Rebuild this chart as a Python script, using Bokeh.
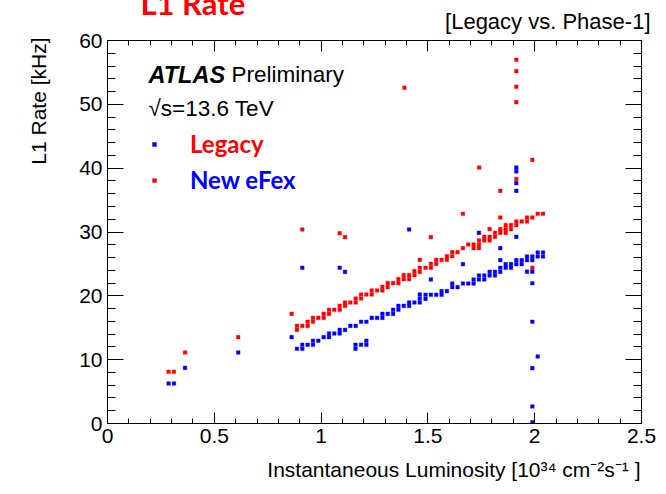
from bokeh.plotting import figure
from bokeh.models import (Label, LinearAxis, SingleIntervalTicker, Range1d, Title,
                          NumeralTickFormatter, Legend, LegendItem, ColumnDataSource)
from bokeh.embed import file_html
from bokeh.resources import INLINE

# L1 rate [kHz] versus instantaneous luminosity [1e34 cm^-2 s^-1]
legacy_lumi = [
    0.286, 0.311, 0.363, 0.612, 0.862,
    0.887, 0.887, 0.912, 0.937, 0.937, 0.962, 0.962, 0.987, 1.012, 1.012,
    1.037, 1.037, 1.062, 1.087, 1.087, 1.112, 1.112, 1.137, 1.162, 1.162,
    1.187, 1.187, 1.212, 1.237, 1.237, 1.262, 1.287, 1.287, 1.312, 1.312,
    1.337, 1.362, 1.362, 1.387, 1.387, 1.412, 1.412, 1.437, 1.437,
    1.462, 1.462, 1.462, 1.489, 1.514, 1.514, 1.539, 1.539, 1.564, 1.589, 1.589,
    1.614, 1.614, 1.639, 1.664, 1.689, 1.714, 1.714, 1.739, 1.739, 1.739,
    1.764, 1.764, 1.789, 1.789, 1.789, 1.814, 1.814, 1.839, 1.839,
    1.864, 1.864, 1.864, 1.889, 1.889, 1.914, 1.914, 1.939, 1.964, 1.964,
    1.989, 2.014, 2.039,
    0.912, 1.087, 1.112, 1.390, 1.514, 1.664, 1.740, 1.839, 1.839,
    1.914, 1.914, 1.914, 1.914, 1.914, 1.989, 1.989,
]
legacy_rate = [
    8.10, 8.10, 11.12, 13.53, 17.18,
    15.30, 14.67, 15.30, 15.93, 15.30, 16.55, 15.93, 16.55, 17.18, 16.55,
    17.81, 17.18, 17.81, 18.43, 17.81, 18.96, 18.43, 18.96, 19.58, 18.96,
    20.21, 19.58, 20.21, 20.84, 20.21, 20.84, 21.40, 20.84, 21.99, 21.36,
    21.99, 22.61, 21.99, 23.24, 22.61, 23.24, 22.61, 23.87, 23.24,
    25.64, 24.39, 23.76, 24.39, 25.01, 24.39, 25.64, 25.01, 25.64, 26.21, 25.64,
    26.84, 26.21, 26.84, 27.47, 28.04, 28.04, 27.47, 28.67, 28.04, 27.47,
    29.24, 28.67, 30.45, 29.24, 28.67, 29.87, 29.24, 30.45, 29.87,
    31.07, 30.45, 29.87, 31.07, 30.45, 31.65, 31.07, 31.65, 32.27, 31.65,
    32.27, 32.85, 32.85,
    30.40, 29.80, 29.20, 52.60, 29.20, 32.85, 40.10, 36.45, 32.27,
    56.98, 55.20, 52.75, 50.34, 38.30, 41.30, 24.40,
]
efex_lumi = [
    0.286, 0.311, 0.363, 0.612, 0.862,
    0.887, 0.912, 0.912, 0.937, 0.962, 0.962, 0.987, 1.012, 1.037, 1.037,
    1.062, 1.087, 1.087, 1.112, 1.137, 1.162, 1.187, 1.212, 1.237, 1.262,
    1.287, 1.287, 1.312, 1.337, 1.337, 1.362, 1.362, 1.387, 1.412, 1.412, 1.437,
    1.462, 1.462, 1.462, 1.489, 1.489, 1.514, 1.539, 1.564, 1.564, 1.589,
    1.614, 1.614, 1.639, 1.664, 1.689, 1.714, 1.714, 1.739, 1.739, 1.764, 1.764,
    1.789, 1.789, 1.814, 1.814, 1.839, 1.839, 1.864, 1.864, 1.889, 1.889,
    1.914, 1.914, 1.939, 1.939, 1.964, 1.964, 1.989, 1.989, 2.014, 2.014, 2.039, 2.039,
    0.912, 1.087, 1.112, 1.412, 1.161, 1.161, 1.187, 1.212, 1.212,
    1.514, 1.664, 1.739, 1.839, 1.839, 1.914, 1.914, 1.914, 1.914, 1.914,
    1.964, 1.989, 1.989, 1.989, 2.014, 1.989, 1.989, 1.989,
]
efex_rate = [
    6.27, 6.27, 8.72, 11.12, 13.53,
    11.70, 12.33, 11.70, 12.33, 12.96, 12.33, 12.96, 13.53, 14.10, 13.53,
    14.10, 14.67, 14.10, 14.67, 15.30, 15.30, 15.93, 15.93, 16.55, 16.55,
    17.18, 16.55, 17.18, 17.81, 17.18, 18.43, 17.81, 18.43, 18.96, 18.43, 18.96,
    20.21, 19.58, 18.96, 20.16, 19.53, 20.16, 20.16, 20.73, 20.16, 20.73,
    21.93, 21.36, 21.36, 21.93, 21.93, 22.56, 21.93, 23.19, 22.56, 23.19, 22.56,
    23.76, 23.19, 23.76, 23.19, 24.39, 23.76, 24.96, 24.39, 24.96, 24.39,
    25.59, 24.96, 25.59, 24.96, 26.16, 25.59, 26.16, 25.59, 26.79, 26.16, 26.79, 26.16,
    24.39, 24.39, 23.76, 30.40, 12.33, 11.70, 12.33, 12.96, 12.33,
    22.56, 24.96, 29.87, 27.47, 25.59, 29.24, 40.10, 39.50, 37.65, 36.45,
    23.79, 23.79, 21.98, 15.93, 10.50, 8.67, 2.66, 0.20,
]

x_limits = (0, 2.5)
y_limits = (0, 60)
x_title = "Instantaneous Luminosity [10\u00b3\u2074 cm\u207b\u00b2s\u207b\u00b9 ]"
y_title = "L1 Rate [kHz]"

FONT = "Liberation Sans"
FS = 21

p = figure(width=666, height=494, output_backend="svg", toolbar_location=None,
           title=None, x_range=Range1d(*x_limits), y_range=Range1d(*y_limits),
           min_border_left=107, min_border_right=25,
           min_border_top=40, min_border_bottom=71)
p.xgrid.visible = False
p.ygrid.visible = False
p.background_fill_color = "white"
p.border_fill_color = "white"
p.outline_line_color = "black"
p.outline_line_width = 1


def style_axis(ax, interval, major_len, minor_len, labels=True):
    ax.ticker = SingleIntervalTicker(interval=interval, num_minor_ticks=5)
    ax.major_tick_in = major_len
    ax.major_tick_out = 0
    ax.minor_tick_in = minor_len
    ax.minor_tick_out = 0
    ax.axis_line_color = "black"
    ax.major_tick_line_color = "black"
    ax.minor_tick_line_color = "black"
    ax.formatter = NumeralTickFormatter(format="0.[0]")
    if labels:
        ax.major_label_text_font = FONT
        ax.major_label_text_font_size = f"{FS}px"
        ax.major_label_text_color = "black"
        ax.major_label_standoff = 5
    else:
        ax.major_label_text_font_size = "1px"
        ax.major_label_text_color = None
        ax.major_label_standoff = 0


def axis_title(text, offset, valign, standoff):
    # axis title flush with the far end of its axis
    return Title(text=text, align="right", offset=offset, vertical_align=valign,
                 standoff=standoff, text_font=FONT, text_font_size=f"{FS}px",
                 text_font_style="normal", text_color="black")


xax = p.xaxis[0]
yax = p.yaxis[0]
style_axis(xax, 0.5, 11, 5)
style_axis(yax, 10, 16, 8)

p.add_layout(axis_title(x_title, 1, "bottom", 20), "below")
p.add_layout(axis_title(y_title, -3, "top", 50), "left")

top_ax = LinearAxis()
style_axis(top_ax, 0.5, 11, 5, labels=False)
p.add_layout(top_ax, "above")
right_ax = LinearAxis()
style_axis(right_ax, 10, 16, 8, labels=False)
p.add_layout(right_ax, "right")

# texts above the frame
p.add_layout(Title(text="[Legacy vs. Phase-1]", align="right", offset=-9,
                   vertical_align="top", standoff=10, text_font=FONT,
                   text_font_size="22px", text_font_style="normal",
                   text_color="black"), "above")
p.add_layout(Title(text="L1 Rate", align="left", offset=33,
                   vertical_align="middle", standoff=-38, text_font="Lato",
                   text_font_size="31px", text_font_style="bold",
                   text_color="#ff0000"), "above")

legacy_src = ColumnDataSource(data=dict(x=legacy_lumi, y=legacy_rate))
efex_src = ColumnDataSource(data=dict(x=efex_lumi, y=efex_rate))
r_legacy = p.scatter("x", "y", source=legacy_src, marker="square", size=3.6,
                     fill_color="#ff0000", line_color="#ff0000", line_width=0.4)
r_efex = p.scatter("x", "y", source=efex_src, marker="square", size=3.6,
                   fill_color="#0000ff", line_color="#0000ff", line_width=0.4)

# frame offsets, used to place text in screen pixels relative to the frame
FL, FB = 107, 423


def add_text(text, sx, sy, size=FS, font=FONT, color="black", align="left",
             baseline="middle", style="normal"):
    p.add_layout(Label(x=sx - FL, y=FB - sy, x_units="screen", y_units="screen",
                       text=text, text_font=font, text_font_size=f"{size}px",
                       text_color=color, text_align=align, text_baseline=baseline,
                       text_font_style=style))


# experiment label
add_text("ATLAS", 148, 74, size=23.5, style="bold italic")
add_text("Preliminary", 231, 74, size=22.5)
add_text("\u221as=13.6 TeV", 148, 108, size=22.5)

# legend entries (location is the bottom-left corner of each entry)
for label, renderer, color, centre in (("Legacy", r_efex, "#ff0000", 148),
                                       ("New eFex", r_legacy, "#0000ff", 184)):
    leg = Legend(items=[LegendItem(label=label, renderers=[renderer])],
                 location=(149 - FL, FB - (centre + 10)), orientation="vertical",
                 border_line_color=None, background_fill_alpha=0,
                 padding=0, margin=0, spacing=0,
                 glyph_width=10, glyph_height=20, label_height=20,
                 label_standoff=31, label_text_font="Lato",
                 label_text_font_style="bold", label_text_font_size="24px",
                 label_text_color=color)
    p.add_layout(leg, "center")

open("out.html", "w").write(file_html(p, INLINE))
